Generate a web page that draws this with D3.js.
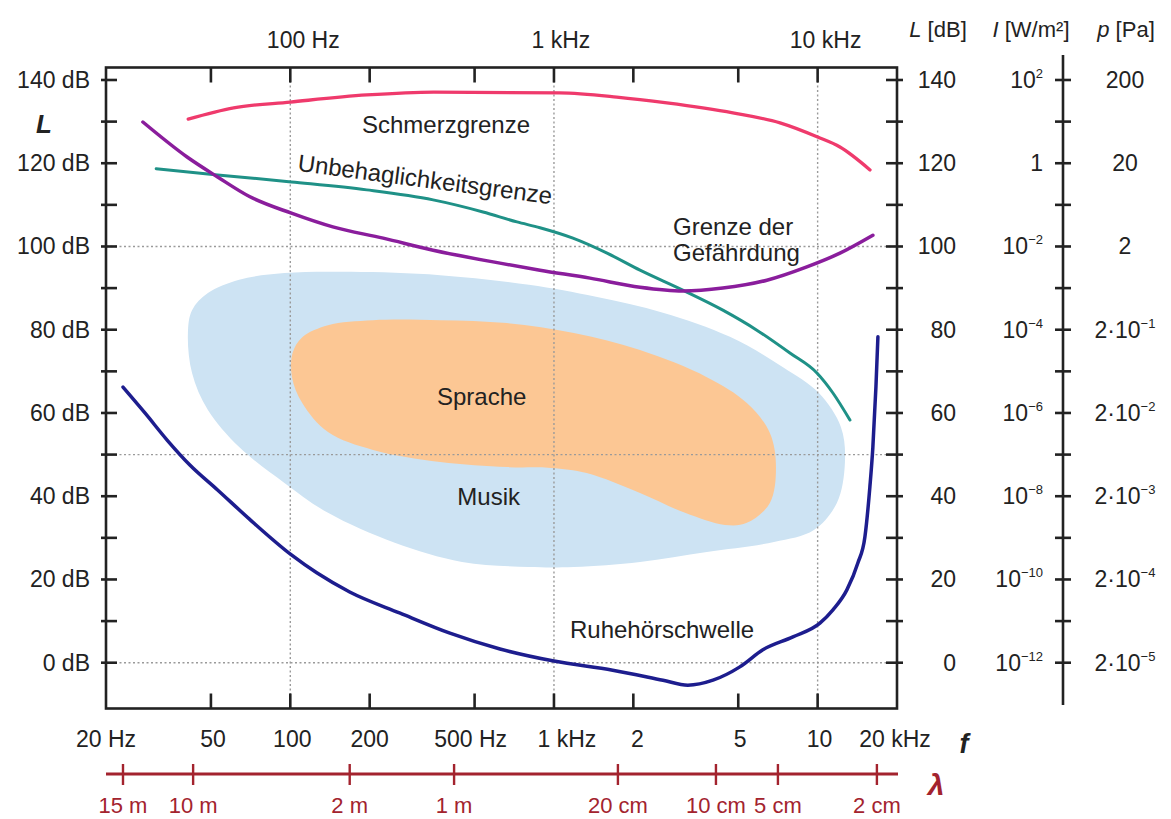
<!DOCTYPE html>
<html>
<head>
<meta charset="utf-8">
<script src="https://cdn.jsdelivr.net/npm/d3@7"></script>
<style>
  body { margin: 0; background: #fff; }
  svg { font-family: "Liberation Sans", Arial, sans-serif; }
</style>
</head>
<body>
<div id="chart"></div>
<script>
// Curves as [frequency in Hz, level in dB]
const schmerzgrenze = [[41,130.6],[61,133.3],[100,134.7],[195,136.4],[350,137.1],[1050,136.9],[1730,135.9],
  [2680,134.5],[4770,132.1],[7200,129.7],[10000,126.3],[12150,123.9],[15800,118.4]];
const unbehaglichkeit = [[31,118.7],[53,117.2],[101,115.5],[195,113.6],[348,111.2],[538,108.3],[724,105.9],
  [885,104.5],[1180,102.0],[1590,98.4],[2120,94.3],[3080,89.5],[4370,84.7],[5880,79.9],[7850,74.4],
  [9940,69.6],[11430,64.8],[13260,58.3]];
const gefaehrdung = [[27.6,129.9],[40.6,121.5],[53,116.7],[70,112.0],[101,108.0],[145,104.7],[225,102.0],
  [348,99.1],[624,96.0],[885,94.3],[1370,92.4],[2120,90.2],[3080,89.3],[4370,90.0],[6420,91.9],
  [9100,95.1],[12150,98.4],[16200,102.7]];
const ruhehoerschwelle = [[23.2,66.2],[28.1,60.0],[34.1,53.5],[41.6,47.5],[53,41.5],[70,34.5],[101,25.9],
  [126,21.6],[168,17.0],[261,11.9],[403,7.1],[624,3.3],[1000,0.4],[1670,-1.8],[2590,-4.2],
  [3220,-5.4],[4010,-4.2],[5070,-1.0],[6200,3.1],[8060,6.2],[10200,9.5],[11430,12.7],[12910,17.5],
  [14220,24.0],[15110,30.2],[15780,42.2],[16200,51.8],[16640,66.3],[16930,78.3]];

// Closed outlines of the two areas
const musik = [[40.9,79.2],[42.4,84.7],[48.7,88.8],[64,92.0],[95,93.6],[170,93.9],[370,93.1],[804,90.8],
  [1443,87.9],[2590,84.1],[4650,78.3],[7390,71.0],[10110,64.8],[12260,56.6],[12690,48.0],[11830,38.4],
  [9680,31.9],[6830,29.0],[3800,26.6],[2120,24.2],[1190,23.0],[804,23.0],[448,24.2],[249,28.8],
  [139,36.0],[95,43.2],[64,51.8],[48.7,60.7],[42.4,69.6]];
const sprache = [[102,74.4],[111,78.2],[139,81.1],[206,82.3],[370,82.3],[663,81.6],[1190,79.2],[2120,75.1],
  [3800,68.6],[5390,62.4],[6590,55.2],[6950,47.0],[6590,38.4],[5390,33.6],[4450,33.1],[3140,36.0],
  [2120,40.8],[1330,45.6],[974,46.8],[663,47.0],[370,48.2],[206,51.1],[139,55.4],[111,62.4],[101.5,68.6]];

// Axes
const freqTicks = [50, 100, 200, 500, 1000, 2000, 5000, 10000];
const bottomLabels = [[20,'20 Hz'],[50,'50'],[100,'100'],[200,'200'],[500,'500 Hz'],[1000,'1 kHz'],
  [2000,'2'],[5000,'5'],[10000,'10'],[20000,'20 kHz']];
const topLabels = [[100,'100 Hz'],[1000,'1 kHz'],[10000,'10 kHz']];
const gridFreqs = [100, 1000, 10000];
const gridLevels = [0, 50, 100];
const levelTicks = d3.range(0, 141, 10);
const levelLabels = [0, 20, 40, 60, 80, 100, 120, 140];
const intensityLabels = [['10','-12'],['10','-10'],['10','-8'],['10','-6'],['10','-4'],['10','-2'],['1',''],['10','2']];
const pressureLabels = [['2·10','-5'],['2·10','-4'],['2·10','-3'],['2·10','-2'],['2·10','-1'],['2',''],['20',''],['200','']];
// wavelength ticks: frequency position as drawn, label
const lambdaTicks = [[23.2,'15 m'],[42.8,'10 m'],[168,'2 m'],[418,'1 m'],[1748,'20 cm'],[4115,'10 cm'],
  [7070,'5 cm'],[16780,'2 cm']];

const annotations = [
  { text: 'Schmerzgrenze', f: 187, L: 127.3 },
  { text: 'Grenze der', f: 2830, L: 102.8 },
  { text: 'Gefährdung', f: 2830, L: 96.6 },
  { text: 'Sprache', f: 360, L: 61.9 },
  { text: 'Musik', f: 430, L: 37.9 },
  { text: 'Ruhehörschwelle', f: 1150, L: 5.9 }
];

const width = 1171, height = 819;
const x = d3.scaleLog().domain([20, 20000]).range([106, 897]);
const y = d3.scaleLinear().domain([-11, 143]).range([708.5, 67.5]);
const frameLeft = x(20), frameRight = x(20000), frameTop = y(143), frameBottom = y(-11);

const ink = '#222';
const red = '#a3232e';

// small nudges so the labels sit where the original put them
const bottomShift = { '20 Hz': 0, '500 Hz': -4, '1 kHz': 13, '2': 4, '200': 0, '20 kHz': -2 };
const topShift = { '100 Hz': 13, '1 kHz': 7, '10 kHz': 8 };

const svg = d3.select('#chart').append('svg')
  .attr('width', width).attr('height', height);

const pt = d => [x(d[0]), y(d[1])];

// Areas
const areaLine = d3.line().curve(d3.curveCatmullRomClosed.alpha(0.5));
svg.append('path').attr('d', areaLine(musik.map(pt))).attr('fill', '#cde3f3');
svg.append('path').attr('d', areaLine(sprache.map(pt))).attr('fill', '#fcc794');

// Dotted grid
svg.selectAll('.hgrid').data(gridLevels).enter().append('line')
  .attr('x1', frameLeft).attr('x2', frameRight)
  .attr('y1', d => y(d)).attr('y2', d => y(d))
  .attr('stroke', '#9a9a9a').attr('stroke-width', 1.4).attr('stroke-dasharray', '2,2.5');
svg.selectAll('.vgrid').data(gridFreqs).enter().append('line')
  .attr('x1', d => x(d)).attr('x2', d => x(d))
  .attr('y1', frameTop).attr('y2', frameBottom)
  .attr('stroke', '#9a9a9a').attr('stroke-width', 1.4).attr('stroke-dasharray', '2,2.5');

// Curves
const curve = d3.line().curve(d3.curveMonotoneX);
const series = [
  [schmerzgrenze, '#ef3a6c', 3.3],
  [unbehaglichkeit, '#1f9187', 3],
  [gefaehrdung, '#8a1d9c', 3.5],
  [ruhehoerschwelle, '#1d1d8e', 3.5]
];
series.forEach(([data, color, w]) => {
  svg.append('path').attr('d', curve(data.map(pt)))
    .attr('fill', 'none').attr('stroke', color).attr('stroke-width', w)
    .attr('stroke-linecap', 'round');
});

// Frame
svg.append('rect')
  .attr('x', frameLeft).attr('y', frameTop)
  .attr('width', frameRight - frameLeft).attr('height', frameBottom - frameTop)
  .attr('fill', 'none').attr('stroke', ink).attr('stroke-width', 2.6);

// Frequency ticks (top and bottom, inward)
svg.selectAll('.ttick').data(freqTicks).enter().append('line')
  .attr('x1', d => x(d)).attr('x2', d => x(d))
  .attr('y1', frameTop).attr('y2', frameTop + 15)
  .attr('stroke', ink).attr('stroke-width', 2.6);
svg.selectAll('.btick').data(freqTicks).enter().append('line')
  .attr('x1', d => x(d)).attr('x2', d => x(d))
  .attr('y1', frameBottom).attr('y2', frameBottom - 15)
  .attr('stroke', ink).attr('stroke-width', 2.6);

svg.selectAll('.tlabel').data(topLabels).enter().append('text')
  .attr('x', d => x(d[0]) + topShift[d[1]]).attr('y', 48)
  .attr('text-anchor', 'middle').attr('font-size', 23).attr('fill', ink)
  .text(d => d[1]);
svg.selectAll('.blabel').data(bottomLabels).enter().append('text')
  .attr('x', d => x(d[0]) + (d[1] in bottomShift ? bottomShift[d[1]] : 2)).attr('y', 747)
  .attr('text-anchor', 'middle').attr('font-size', 23).attr('fill', ink)
  .text(d => d[1]);

// Level ticks: left, right of frame and the separate I / p axis
const ipAxisX = 1063;
[[frameLeft - 5, frameLeft + 11], [frameRight - 11, frameRight + 6], [ipAxisX - 8, ipAxisX + 8]].forEach(([a, b]) => {
  svg.selectAll(null).data(levelTicks).enter().append('line')
    .attr('x1', a).attr('x2', b)
    .attr('y1', d => y(d)).attr('y2', d => y(d))
    .attr('stroke', ink).attr('stroke-width', 2.6);
});
svg.append('line').attr('x1', ipAxisX).attr('x2', ipAxisX).attr('y1', 55).attr('y2', 705)
  .attr('stroke', ink).attr('stroke-width', 2.6);

svg.selectAll('.llabel').data(levelLabels).enter().append('text')
  .attr('x', 90).attr('y', d => y(d) + 8)
  .attr('text-anchor', 'end').attr('font-size', 23).attr('fill', ink)
  .text(d => d + ' dB');
svg.selectAll('.rlabel').data(levelLabels).enter().append('text')
  .attr('x', 956).attr('y', d => y(d) + 8)
  .attr('text-anchor', 'end').attr('font-size', 23).attr('fill', ink)
  .text(d => d);

function powerLabel(sel, data, xPos, anchor) {
  const t = sel.selectAll(null).data(data).enter().append('text')
    .attr('x', xPos).attr('y', (d, i) => y(levelLabels[i]) + 8)
    .attr('text-anchor', anchor).attr('font-size', 23).attr('fill', ink);
  t.append('tspan').text(d => d[0]);
  t.append('tspan').attr('font-size', 13).attr('dy', -10).text(d => d[1].replace('-', '\u2212'));
}
powerLabel(svg, intensityLabels, 1043, 'end');
powerLabel(svg, pressureLabels, 1125, 'middle');

// Column headers
const headers = [[938, 'L', ' [dB]'], [1031, 'I', ' [W/m²]'], [1126, 'p', ' [Pa]']];
headers.forEach(([hx, sym, unit]) => {
  const t = svg.append('text').attr('x', hx).attr('y', 37)
    .attr('text-anchor', 'middle').attr('font-size', 22).attr('fill', ink);
  t.append('tspan').attr('font-style', 'italic').text(sym);
  t.append('tspan').text(unit);
});

// Axis symbols
svg.append('text').attr('x', 44).attr('y', 133).attr('text-anchor', 'middle')
  .attr('font-size', 26).attr('font-weight', 'bold').attr('font-style', 'italic').attr('fill', ink).text('L');
svg.append('text').attr('x', 964).attr('y', 753).attr('text-anchor', 'middle')
  .attr('font-size', 27).attr('font-weight', 'bold').attr('font-style', 'italic').attr('fill', ink).text('f');
svg.append('text').attr('x', 936).attr('y', 795).attr('text-anchor', 'middle')
  .attr('font-size', 30).attr('font-weight', 'bold').attr('font-style', 'italic').attr('fill', red).text('λ');

// Wavelength axis
const lambdaY = 774;
svg.append('line').attr('x1', frameLeft).attr('x2', frameRight + 1)
  .attr('y1', lambdaY).attr('y2', lambdaY).attr('stroke', red).attr('stroke-width', 3);
svg.selectAll('.lt').data(lambdaTicks).enter().append('line')
  .attr('x1', d => x(d[0])).attr('x2', d => x(d[0]))
  .attr('y1', lambdaY - 10).attr('y2', lambdaY + 11)
  .attr('stroke', red).attr('stroke-width', 2.4);
svg.selectAll('.ll').data(lambdaTicks).enter().append('text')
  .attr('x', d => x(d[0])).attr('y', 813)
  .attr('text-anchor', 'middle').attr('font-size', 22).attr('fill', red)
  .text(d => d[1]);

// Curve and area annotations
svg.selectAll('.ann').data(annotations).enter().append('text')
  .attr('x', d => x(d.f)).attr('y', d => y(d.L))
  .attr('text-anchor', 'start').attr('font-size', 24).attr('fill', ink)
  .text(d => d.text);
// slanted label along the discomfort curve
const ux = x(106), uy = y(118.2);
svg.append('text').attr('transform', `translate(${ux},${uy}) rotate(7.5)`)
  .attr('font-size', 24).attr('fill', ink).text('Unbehaglichkeitsgrenze');
</script>
</body>
</html>
